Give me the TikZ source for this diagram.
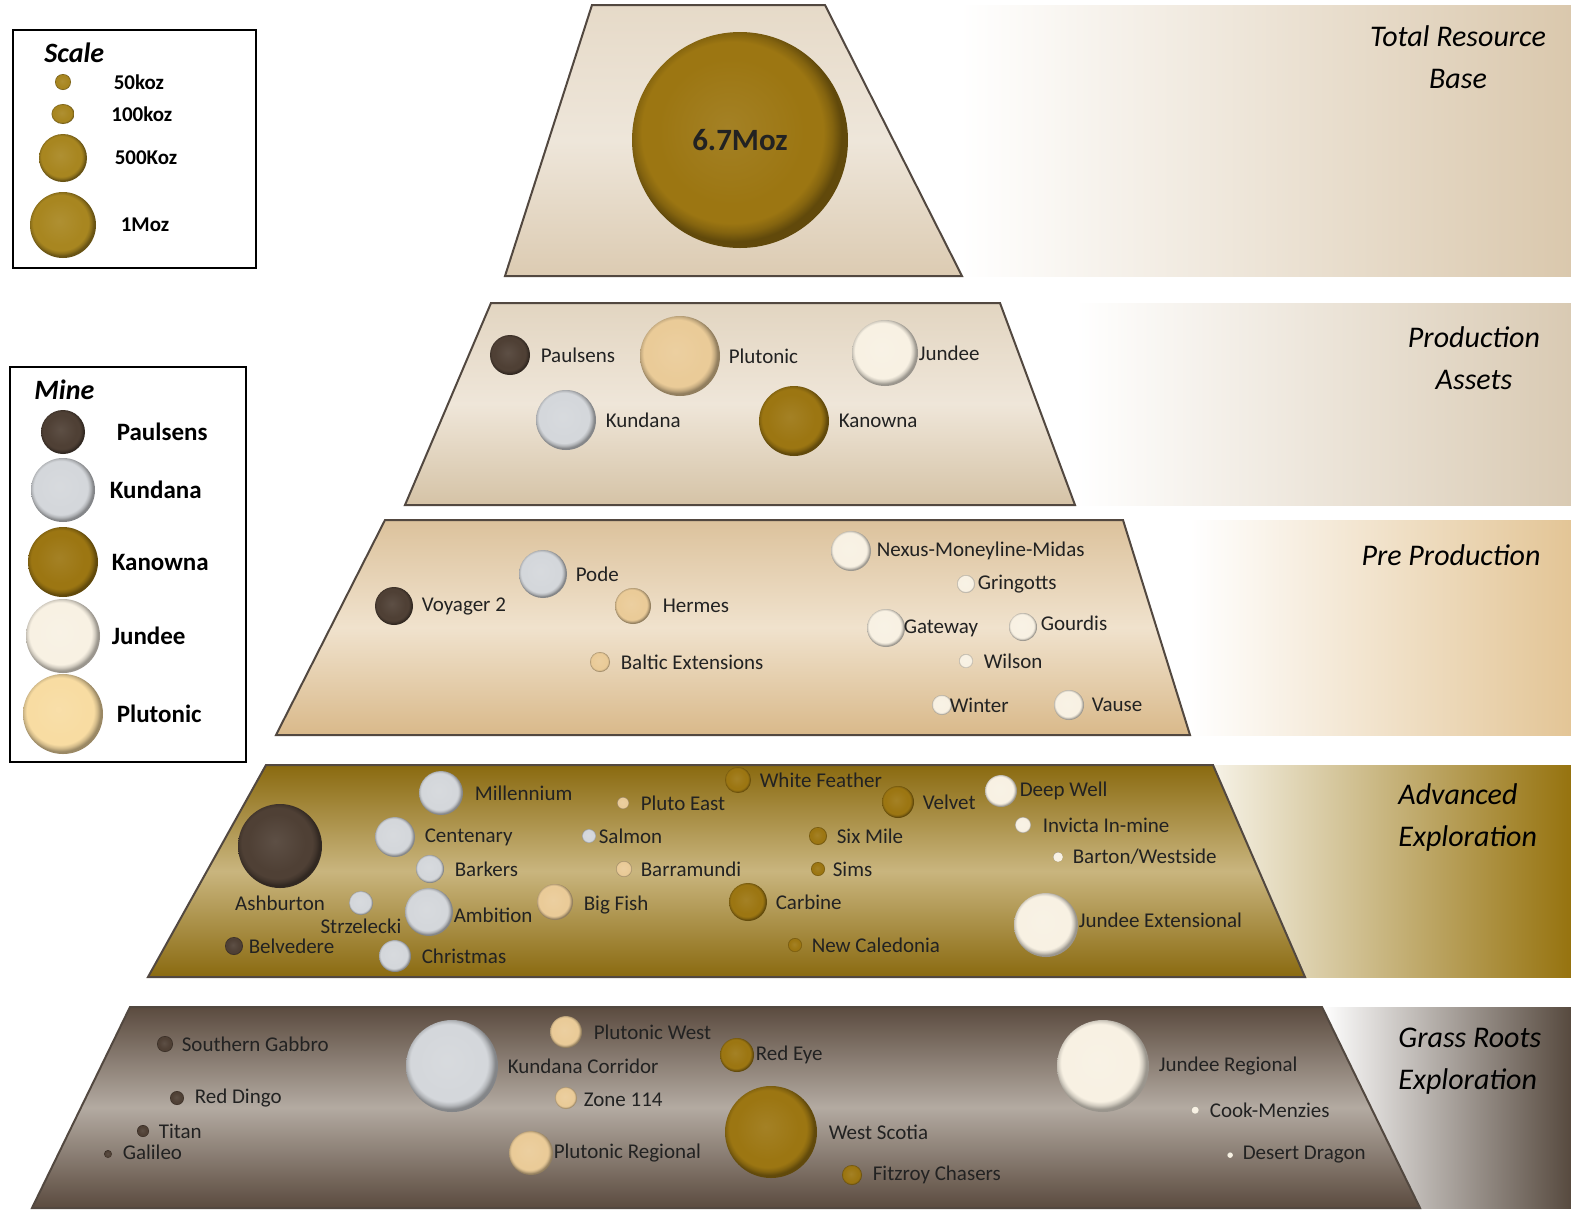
\documentclass[tikz,border=0pt]{standalone}
\usepackage{fontspec}
\setmainfont{Carlito}
\usetikzlibrary{positioning}

\definecolor{cPaul}{HTML}{4F4035}
\definecolor{cKun}{HTML}{D4D7DB}
\definecolor{cKan}{HTML}{9C7612}
\definecolor{cJun}{HTML}{F8F1E3}
\definecolor{cPlu}{HTML}{EACB98}
\definecolor{cPluL}{HTML}{F8DCA2}
\definecolor{cGold}{HTML}{A88620}
\definecolor{cEdge}{HTML}{524840}
\definecolor{cText}{HTML}{222222}
% band colours
\definecolor{sideA}{HTML}{DAC8AD}
\definecolor{sideB}{HTML}{D9CAB3}
\definecolor{sideC}{HTML}{E3C596}
\definecolor{sideDl}{HTML}{F6F2E6}
\definecolor{sideD}{HTML}{96730F}
\definecolor{sideE}{HTML}{574A3F}
\definecolor{bandAt}{HTML}{E6DAC8}
\definecolor{bandAm}{HTML}{EEE6DA}
\definecolor{bandAb}{HTML}{DCCBB2}
\definecolor{bandBt}{HTML}{E2D5C1}
\definecolor{bandBm}{HTML}{EFE6D9}
\definecolor{bandBb}{HTML}{D5C3A6}
\definecolor{bandCt}{HTML}{DCC29C}
\definecolor{bandCm}{HTML}{F0E2CD}
\definecolor{bandCb}{HTML}{D9B98A}
\definecolor{bandDo}{HTML}{8A6A10}
\definecolor{bandDm}{HTML}{C9B57E}
\definecolor{bandEo}{HTML}{5B4B3F}
\definecolor{bandEm}{HTML}{B3AAA1}

% flat face, darker rim
\newcommand\mkshade[2]{%
  \pgfdeclareradialshading{#1}{\pgfpoint{-3bp}{3bp}}{%
    color(0bp)=(#2!92!white); color(17bp)=(#2); color(21bp)=(#2);
    color(23bp)=(#2!85!black); color(25bp)=(#2!62!black); color(50bp)=(#2!62!black)}}
\mkshade{shPaul}{cPaul}
\mkshade{shKun}{cKun}
\mkshade{shKan}{cKan}
\mkshade{shJun}{cJun}
\mkshade{shPlu}{cPlu}
\mkshade{shPluL}{cPluL}
\mkshade{shGold}{cGold}

\tikzset{
  bub/.style={circle, inner sep=0pt, minimum size=#1pt, shade},
  paul/.style={shading=shPaul},
  kun/.style={shading=shKun},
  kan/.style={shading=shKan},
  jun/.style={shading=shJun},
  plu/.style={shading=shPlu},
  pluL/.style={shading=shPluL},
  gold/.style={shading=shGold},
  lbl/.style={inner sep=0pt, text=cText, font=\fontsize{10.5}{12}\selectfont},
  leglbl/.style={inner sep=0pt, font=\fontsize{12.5}{15}\selectfont\bfseries},
  scalelbl/.style={inner sep=0pt, font=\fontsize{10.5}{12}\selectfont\bfseries},
  legttl/.style={inner sep=0pt, font=\fontsize{14}{16}\selectfont\bfseries\itshape},
  ttl/.style={inner sep=0pt, align=center, font=\fontsize{15}{21}\selectfont\itshape},
  band/.style={draw=cEdge, line width=1pt},
  legbox/.style={draw=black, line width=1pt, fill=white},
}

\begin{document}
\begin{tikzpicture}[x=0.5pt, y=-0.5pt]
\useasboundingbox (0,0) rectangle (1571,1212);

% side bands
\shade[left color=white, right color=sideA] (960,5) rectangle (1571,276);
\shade[left color=white, right color=sideB] (1075,303) rectangle (1571,505);
\shade[left color=white, right color=sideC] (1190,520) rectangle (1571,735);
\shade[left color=sideDl, right color=sideD] (1213,765) rectangle (1571,977);
\shade[left color=white, right color=sideE] (1322,1007) rectangle (1571,1208);

% pyramid
\draw[band, top color=bandAt, bottom color=bandAb, middle color=bandAm]
  (592,5) -- (825,5) -- (962,276) -- (505,276) -- cycle;
\draw[band, top color=bandBt, bottom color=bandBb, middle color=bandBm]
  (491,303) -- (1000,303) -- (1075,505) -- (405,505) -- cycle;
\draw[band, top color=bandCt, bottom color=bandCb, middle color=bandCm]
  (385,520) -- (1123,520) -- (1190,735) -- (276,735) -- cycle;
\draw[band, top color=bandDo, bottom color=bandDo, middle color=bandDm]
  (266,765) -- (1213,765) -- (1305,977) -- (148,977) -- cycle;
\draw[band, top color=bandEo, bottom color=bandEo, middle color=bandEm]
  (130,1007) -- (1322,1007) -- (1420,1208) -- (32,1208) -- cycle;

% titles
\node[ttl] (tTotal) at (1458,57) {Total Resource\\Base};
\node[ttl] (tProd) at (1474,358) {Production\\Assets};
\node[ttl] (tPre) at (1451,555) {Pre Production};
\node[ttl, align=left, anchor=west] (tAdv) at (1398,817) {Advanced\\Exploration};
\node[ttl, align=left, anchor=west] (tGrass) at (1398,1061) {Grass Roots\\Exploration};

% scale legend
\draw[legbox] (13,30) rectangle (256,268);
\node[legttl, anchor=west] (scaleT) at (44,53) {Scale};
\node[bub=8, gold] (s50) at (63,82) {};
\node[scalelbl, right=21pt of s50] (s50-t) {50koz};
\node[bub=10, gold, xscale=1.15] (s100) at (63,114) {};
\node[scalelbl, right=18pt of s100] (s100-t) {100koz};
\node[bub=24, gold] (s500) at (63,158) {};
\node[scalelbl, right=13.5pt of s500] (s500-t) {500Koz};
\node[bub=33, gold] (s1000) at (63,225) {};
\node[scalelbl, right=12pt of s1000] (s1000-t) {1Moz};

% mine legend
\draw[legbox] (10,367) rectangle (246,762);
\node[legttl, anchor=west] (mineT) at (34,390) {Mine};
\node[bub=22, paul] (legPaul) at (63,432) {};
\node[leglbl, right=15.5pt of legPaul] (legPaul-t) {Paulsens};
\node[bub=32, kun] (legKun) at (63,490) {};
\node[leglbl, right=7pt of legKun] (legKun-t) {Kundana};
\node[bub=35, kan] (legKan) at (63,562) {};
\node[leglbl, right=6.5pt of legKan] (legKan-t) {Kanowna};
\node[bub=37, jun] (legJun) at (63,636) {};
\node[leglbl, right=5.5pt of legJun] (legJun-t) {Jundee};
\node[bub=40, pluL] (legPlu) at (63,714) {};
\node[leglbl, right=6.5pt of legPlu] (legPlu-t) {Plutonic};

% total resource base
\node[bub=108, kan, font=\fontsize{15.5}{18}\selectfont\bfseries, text=cText] (total) at (740,140) {6.7Moz};

% production assets
\node[bub=20, paul] (prodPaul) at (510,355) {};
\node[lbl, right=5pt of prodPaul] (prodPaul-t) {Paulsens};
\node[bub=40, plu] (prodPlu) at (680,356) {};
\node[lbl, right=4pt of prodPlu] (prodPlu-t) {Plutonic};
\node[bub=33, jun] (prodJun) at (885,353) {};
\node[lbl, right=0pt of prodJun] (prodJun-t) {Jundee};
\node[bub=30, kun] (prodKun) at (566,420) {};
\node[lbl, right=4.5pt of prodKun] (prodKun-t) {Kundana};
\node[bub=35, kan] (prodKan) at (794,421) {};
\node[lbl, right=4.5pt of prodKan] (prodKan-t) {Kanowna};

% pre production
\node[bub=19, paul] (voyager) at (394,606) {};
\node[lbl, right=4pt of voyager] (voyager-t) {Voyager 2};
\node[bub=24, kun] (pode) at (543,574) {};
\node[lbl, right=4pt of pode] (pode-t) {Pode};
\node[bub=18, plu] (hermes) at (633,606) {};
\node[lbl, right=5.5pt of hermes] (hermes-t) {Hermes};
\node[bub=10, plu] (baltic) at (600,662) {};
\node[lbl, right=5pt of baltic] (baltic-t) {Baltic Extensions};
\node[bub=20, jun] (nexus) at (851,551) {};
\node[lbl, right=2.5pt of nexus] (nexus-t) {Nexus-Moneyline-Midas};
\node[bub=9, jun] (gringotts) at (966,584) {};
\node[lbl, right=1pt of gringotts] (gringotts-t) {Gringotts};
\node[bub=19, jun] (gateway) at (886,628) {};
\node[lbl, right=-1pt of gateway] (gateway-t) {Gateway};
\node[bub=14, jun] (gourdis) at (1023,627) {};
\node[lbl, right=1.5pt of gourdis, yshift=2pt] (gourdis-t) {Gourdis};
\node[bub=7, jun] (wilson) at (966,661) {};
\node[lbl, right=5pt of wilson] (wilson-t) {Wilson};
\node[bub=10, jun] (winter) at (942,705) {};
\node[lbl, right=-1.5pt of winter] (winter-t) {Winter};
\node[bub=15, jun] (vause) at (1069,705) {};
\node[lbl, right=3.5pt of vause] (vause-t) {Vause};

% advanced exploration
\node[bub=42, paul] (ashburton) at (280,846) {};
\node[lbl, below=3.5pt of ashburton] (ashburton-t) {Ashburton};
\node[bub=22, kun] (millennium) at (441,793) {};
\node[lbl, right=5.5pt of millennium] (millennium-t) {Millennium};
\node[bub=20, kun] (centenary) at (395,837) {};
\node[lbl, right=4.5pt of centenary] (centenary-t) {Centenary};
\node[bub=14, kun] (barkers) at (430,869) {};
\node[lbl, right=5pt of barkers] (barkers-t) {Barkers};
\node[bub=12, kun] (strzelecki) at (361,903) {};
\node[lbl, below=1.5pt of strzelecki] (strzelecki-t) {Strzelecki};
\node[bub=24, kun] (ambition) at (429,912) {};
\node[lbl, right=0pt of ambition, yshift=-1.5pt] (ambition-t) {Ambition};
\node[bub=16, kun] (christmas) at (395,956) {};
\node[lbl, right=5pt of christmas] (christmas-t) {Christmas};
\node[bub=9, paul] (belvedere) at (234,946) {};
\node[lbl, right=2.5pt of belvedere] (belvedere-t) {Belvedere};
\node[bub=6, plu] (plutoeast) at (623,803) {};
\node[lbl, right=5.5pt of plutoeast] (plutoeast-t) {Pluto East};
\node[bub=7, kun] (salmon) at (589,836) {};
\node[lbl, right=1pt of salmon] (salmon-t) {Salmon};
\node[bub=8, plu] (barramundi) at (624,869) {};
\node[lbl, right=4pt of barramundi] (barramundi-t) {Barramundi};
\node[bub=18, plu] (bigfish) at (555,902) {};
\node[lbl, right=5pt of bigfish, yshift=-1.5pt] (bigfish-t) {Big Fish};
\node[bub=13, kan] (whitefeather) at (738,780) {};
\node[lbl, right=4pt of whitefeather] (whitefeather-t) {White Feather};
\node[bub=16, kan] (velvet) at (898,802) {};
\node[lbl, right=4pt of velvet] (velvet-t) {Velvet};
\node[bub=9, kan] (sixmile) at (818,836) {};
\node[lbl, right=4.5pt of sixmile] (sixmile-t) {Six Mile};
\node[bub=7, kan] (sims) at (818,869) {};
\node[lbl, right=3.5pt of sims] (sims-t) {Sims};
\node[bub=19, kan] (carbine) at (748,902) {};
\node[lbl, right=4pt of carbine] (carbine-t) {Carbine};
\node[bub=7, kan] (newcal) at (795,945) {};
\node[lbl, right=4.5pt of newcal] (newcal-t) {New Caledonia};
\node[bub=16, jun] (deepwell) at (1001,791) {};
\node[lbl, right=1pt of deepwell] (deepwell-t) {Deep Well};
\node[bub=8, jun] (invicta) at (1023,825) {};
\node[lbl, right=5.5pt of invicta] (invicta-t) {Invicta In-mine};
\node[bub=5, jun] (barton) at (1058,857) {};
\node[lbl, right=4.5pt of barton] (barton-t) {Barton/Westside};
\node[bub=32, jun] (jundeeext) at (1046,925) {};
\node[lbl, right=0pt of jundeeext, yshift=2.5pt] (jundeeext-t) {Jundee Extensional};

% grass roots exploration
\node[bub=8, paul] (gabbro) at (165,1044) {};
\node[lbl, right=4pt of gabbro] (gabbro-t) {Southern Gabbro};
\node[bub=7, paul] (reddingo) at (177,1098) {};
\node[lbl, right=5pt of reddingo] (reddingo-t) {Red Dingo};
\node[bub=6, paul] (titan) at (143,1131) {};
\node[lbl, right=4.5pt of titan] (titan-t) {Titan};
\node[bub=4, paul] (galileo) at (108,1154) {};
\node[lbl, right=5pt of galileo, yshift=1pt] (galileo-t) {Galileo};
\node[bub=46, kun] (kuncorr) at (452,1066) {};
\node[lbl, right=4.5pt of kuncorr] (kuncorr-t) {Kundana Corridor};
\node[bub=16, plu] (pluwest) at (566,1032) {};
\node[lbl, right=5.5pt of pluwest] (pluwest-t) {Plutonic West};
\node[bub=11, plu] (zone) at (566,1098) {};
\node[lbl, right=3pt of zone, yshift=-1pt] (zone-t) {Zone 114};
\node[bub=22, plu] (plureg) at (531,1153) {};
\node[lbl, right=0pt of plureg] (plureg-t) {Plutonic Regional};
\node[bub=17, kan] (redeye) at (737,1055) {};
\node[lbl, right=0.5pt of redeye] (redeye-t) {Red Eye};
\node[bub=46, kan] (westscotia) at (771,1132) {};
\node[lbl, right=5.5pt of westscotia] (westscotia-t) {West Scotia};
\node[bub=10, kan] (fitzroy) at (852,1175) {};
\node[lbl, right=5pt of fitzroy] (fitzroy-t) {Fitzroy Chasers};
\node[bub=46, jun] (jundeereg) at (1103,1066) {};
\node[lbl, right=4.5pt of jundeereg] (jundeereg-t) {Jundee Regional};
\node[bub=4, jun] (cook) at (1195,1110) {};
\node[lbl, right=5pt of cook] (cook-t) {Cook-Menzies};
\node[bub=3, jun] (desert) at (1230,1155) {};
\node[lbl, right=4.5pt of desert] (desert-t) {Desert Dragon};
\end{tikzpicture}
\end{document}
